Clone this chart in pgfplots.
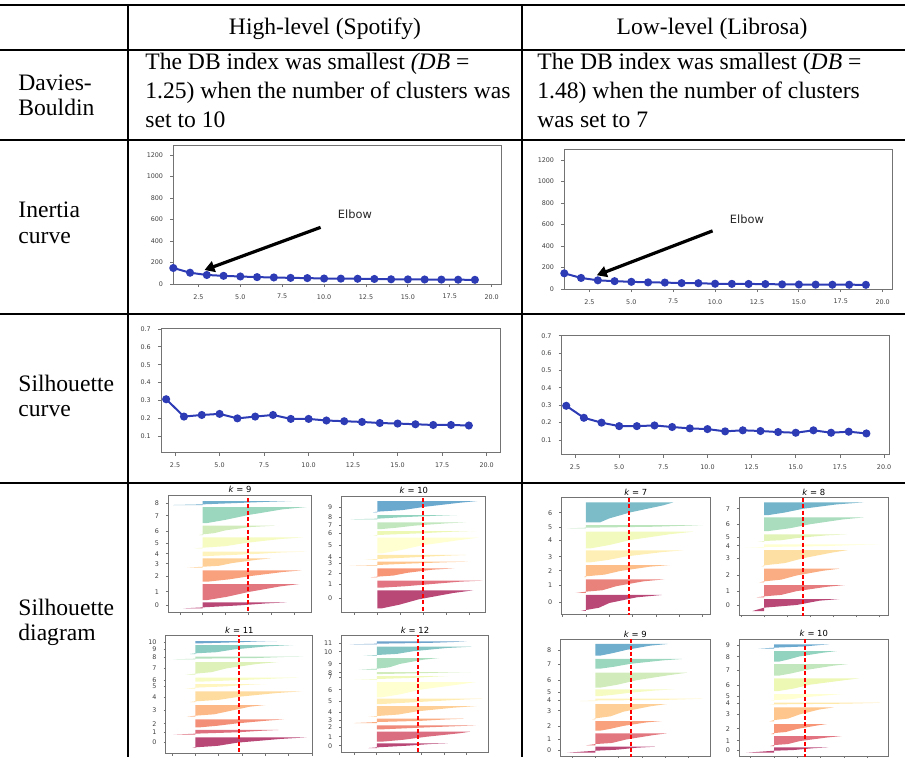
\documentclass[border=0pt]{standalone}
\usepackage{fontspec}
\setmainfont{Liberation Serif}
\newfontfamily\mpl{DejaVu Sans}
\usepackage{pgfplots}
\pgfplotsset{compat=1.18}
\usetikzlibrary{arrows.meta}

\definecolor{mplblue}{RGB}{45,60,180}
\definecolor{avgred}{RGB}{255,0,0}
\newcommand\tb{\fontsize{11.8}{14}\selectfont}

\tikzset{elbow/.style={black, line width=1.6pt, -{Triangle[length=5pt,width=5.5pt]}}}

\pgfplotsset{
  colormap={spectral}{rgb255=(158,1,66) rgb255=(213,62,79) rgb255=(244,109,67)
    rgb255=(253,174,97) rgb255=(254,224,139) rgb255=(255,255,191) rgb255=(230,245,152)
    rgb255=(171,221,164) rgb255=(102,194,165) rgb255=(50,136,189) rgb255=(94,79,162)},
  mplax/.style={scale only axis, anchor=north west, tick pos=left, tick align=outside,
    major tick length=1.6pt, axis line style={black!55, line width=0.5pt},
    tick style={black!55, line width=0.4pt},
    tick label style={font=\mpl\fontsize{3.2}{4}\selectfont, text=black!75},
    /pgf/number format/assume math mode=true, /pgf/number format/1000 sep={},
    scaled ticks=false},
  curve/.style={mplax, xtick={2.5,5,...,20},
    x tick label style={/pgf/number format/fixed, /pgf/number format/fixed zerofill,
      /pgf/number format/precision=1}},
  line/.style={mplblue, line width=1pt, mark=*, mark size=1.5pt},
  sil/.style={mplax, y dir=reverse, xtick={-0.1,0,0.1,0.2,0.3,0.4,0.5}, xticklabels={},
    major tick length=1.2pt,
    every axis title/.style={at={(0.5,1)}, anchor=south, inner sep=0.8pt,
      font=\mpl\fontsize{4.2}{5}\selectfont}},
  kn/.style={color of colormap={#1 of spectral}, draw=none, fill=., fill opacity=0.72},
  avg/.style={draw=avgred, line width=1pt, dash pattern=on 2pt off 1.2pt},
}

\begin{document}
\begin{tikzpicture}
\useasboundingbox (0,0) rectangle (452.5pt,-378.5pt);
\clip (0,0) rectangle (452.5pt,-378.5pt);

% table grid and text, in pixel units of the reference
\begin{scope}[x=0.5pt, y=-0.5pt]
\draw[line width=1pt] (0,5) -- (905,5);
\draw[line width=1pt] (0,49.5) -- (905,49.5);
\draw[line width=1pt] (0,139.5) -- (905,139.5);
\draw[line width=1pt] (0,313.5) -- (905,313.5);
\draw[line width=1pt] (0,482.5) -- (905,482.5);
\draw[line width=1pt] (127.5,5) -- (127.5,757);
\draw[line width=1pt] (521.5,5) -- (521.5,757);

\node[anchor=base, inner sep=0] at (325,34) {\tb High-level (Spotify)};
\node[anchor=base, inner sep=0] at (712,34) {\tb Low-level (Librosa)};

\node[anchor=base west, inner sep=0] at (18,90) {\tb Davies-};
\node[anchor=base west, inner sep=0] at (18,115) {\tb Bouldin};
\node[anchor=base west, inner sep=0] at (18,217) {\tb Inertia};
\node[anchor=base west, inner sep=0] at (18,243) {\tb curve};
\node[anchor=base west, inner sep=0] at (18,391) {\tb Silhouette};
\node[anchor=base west, inner sep=0] at (18,416) {\tb curve};
\node[anchor=base west, inner sep=0] at (18,615) {\tb Silhouette};
\node[anchor=base west, inner sep=0] at (18,640) {\tb diagram};

\node[anchor=base west, inner sep=0] at (145,69) {\tb The DB index was smallest \textit{(DB} =};
\node[anchor=base west, inner sep=0] at (145,98) {\tb 1.25) when the number of clusters was};
\node[anchor=base west, inner sep=0] at (145,127) {\tb set to 10};
\node[anchor=base west, inner sep=0] at (537,69) {\tb The DB index was smallest (\textit{DB} =};
\node[anchor=base west, inner sep=0] at (537,98) {\tb 1.48) when the number of clusters};
\node[anchor=base west, inner sep=0] at (537,127) {\tb was set to 7};
\end{scope}

% inertia, high-level
\begin{axis}[curve, at={(86.65pt,-72.5pt)}, width=164.2pt, height=69.5pt,
  xmin=1, xmax=20.6, ymin=0, ymax=1293, ytick={0,200,...,1200}]
\addplot[line] coordinates {(1,149) (2,105) (3,84) (4,76) (5,70) (6,64) (7,61) (8,57) (9,55)
  (10,51) (11,50) (12,49) (13,47) (14,44) (15,43) (16,42) (17,41) (18,40) (19,39)};
\draw[elbow] (axis cs:9.79,527) -- (axis cs:2.86,130);
\node[font=\mpl\fontsize{5.7}{7}\selectfont, text=black!85] at (axis cs:11.84,651) {Elbow};
\end{axis}

% inertia, low-level
\begin{axis}[curve, at={(282.15pt,-74.65pt)}, width=164.2pt, height=69.85pt,
  xmin=1, xmax=20.6, ymin=0, ymax=1300, ytick={0,200,...,1200}]
\addplot[line] coordinates {(1,146) (2,103) (3,81) (4,73) (5,67) (6,62) (7,60) (8,55) (9,54)
  (10,49) (11,48) (12,47) (13,46) (14,43) (15,42) (16,41) (17,40) (18,40) (19,39)};
\draw[elbow] (axis cs:9.85,541) -- (axis cs:2.94,128);
\node[font=\mpl\fontsize{5.7}{7}\selectfont, text=black!85] at (axis cs:11.9,650) {Elbow};
\end{axis}

% silhouette, high-level
\begin{axis}[curve, at={(80.5pt,-164.15pt)}, width=169.85pt, height=62pt,
  xmin=1.71, xmax=20.79, ymin=0.01, ymax=0.704, ytick={0.1,0.2,0.3,0.4,0.5,0.6,0.7},
  y tick label style={/pgf/number format/fixed, /pgf/number format/precision=1}]
\addplot[line] coordinates {(2,0.307) (3,0.21) (4,0.219) (5,0.225) (6,0.2) (7,0.21) (8,0.219)
  (9,0.197) (10,0.197) (11,0.188) (12,0.184) (13,0.18) (14,0.174) (15,0.171) (16,0.167)
  (17,0.163) (18,0.163) (19,0.16)};
\end{axis}

% silhouette, low-level
\begin{axis}[curve, at={(280.85pt,-167.85pt)}, width=163.65pt, height=59.3pt,
  xmin=1.745, xmax=20.28, ymin=0.018, ymax=0.7, ytick={0.1,0.2,0.3,0.4,0.5,0.6,0.7},
  y tick label style={/pgf/number format/fixed, /pgf/number format/precision=1}]
\addplot[line] coordinates {(2,0.297) (3,0.228) (4,0.2) (5,0.18) (6,0.18) (7,0.184) (8,0.175)
  (9,0.167) (10,0.163) (11,0.15) (12,0.156) (13,0.152) (14,0.146) (15,0.142) (16,0.156)
  (17,0.142) (18,0.148) (19,0.138)};
\end{axis}

% silhouette diagram, high-level, k = 9
\begin{axis}[sil, at={(84.15pt,-247.5pt)}, width=71.7pt, height=58.85pt,
  xmin=-0.151, xmax=0.478, ymin=30, ymax=383, title={\textit{k} = 9},
  ytick={55,92,138,175,206,236,273,320,360}, yticklabels={8,7,6,5,4,3,2,1,0}]
\addplot[kn=0] coordinates {(0,370) (-0.085,370) (0,367) (0.16,361) (0.28,355) (0.368,352) (0,352)};
\addplot[kn=111] coordinates {(0,345) (0.02,345) (0.105,335.4) (0.2,321) (0.34,304) (0.424,297) (0,297)};
\addplot[kn=222] coordinates {(0,290) (0.02,290) (0.115,283) (0.21,273) (0.35,261) (0.434,256) (0,256)};
\addplot[kn=333] coordinates {(0,248) (-0.07,248) (0,245) (0.07,242.4) (0.13,234) (0.24,224) (0.3,220) (0,220)};
\addplot[kn=444] coordinates {(0,213) (0.02,213) (0.24,206.5) (0.35,202) (0.45,200) (0,200)};
\addplot[kn=556] coordinates {(0,190) (-0.034,190) (0,188) (0.1,183.4) (0.19,173.5) (0.34,162) (0.44,157) (0,157)};
\addplot[kn=667] coordinates {(0,150) (-0.015,150) (0,148) (0.05,144.4) (0.1,136) (0.21,126) (0.317,122) (0,122)};
\addplot[kn=778] coordinates {(0,114) (0.02,114) (0.1,104.4) (0.2,90) (0.35,73) (0.456,66) (0,66)};
\addplot[kn=889] coordinates {(0,60) (-0.13,60) (0,58) (0.15,54) (0.3,50) (0.39,48) (0,48)};
\addplot[avg] coordinates {(0.197,0) (0.197,420)};
\end{axis}

% k = 10
\begin{axis}[sil, at={(170.85pt,-248pt)}, width=72.15pt, height=58.15pt,
  xmin=-0.155, xmax=0.472, ymin=33, ymax=382, title={\textit{k} = 10},
  ytick={67,97,121,145,182,216,236,265,298,341}, yticklabels={9,8,7,6,5,4,3,2,1,0}]
\addplot[kn=0] coordinates {(0,370) (0.02,370) (0.095,359.2) (0.18,343) (0.33,324) (0.417,316) (0,316)};
\addplot[kn=100] coordinates {(0,308) (0.02,308) (0.12,303.8) (0.23,297.5) (0.36,290) (0.457,287) (0,287)};
\addplot[kn=200] coordinates {(0,277) (-0.029,277) (0,275) (0.07,271.6) (0.13,263.5) (0.24,254) (0.335,250) (0,250)};
\addplot[kn=300] coordinates {(0,242) (-0.122,242) (0,240) (0.13,236) (0.29,232) (0.393,230) (0,230)};
\addplot[kn=400] coordinates {(0,224) (-0.054,224) (0,222) (0.156,217) (0.3,212) (0.384,210) (0,210)};
\addplot[kn=500] coordinates {(0,205) (0.02,205) (0.1,195.6) (0.19,181.5) (0.36,165) (0.438,158) (0,158)};
\addplot[kn=600] coordinates {(0,152) (-0.017,152) (0,150) (0.185,145) (0.33,140) (0.426,138) (0,138)};
\addplot[kn=700] coordinates {(0,132) (0.02,132) (0.085,128) (0.16,122) (0.3,115) (0.385,112) (0,112)};
\addplot[kn=800] coordinates {(0,103) (-0.116,103) (0,101) (0.11,96.5) (0.26,92) (0.345,90) (0,90)};
\addplot[kn=900] coordinates {(0,82) (-0.02,82) (0,80) (0.11,75.2) (0.21,65) (0.36,53) (0.435,48) (0,48)};
\addplot[avg] coordinates {(0.197,0) (0.197,420)};
\end{axis}

% k = 11
\begin{axis}[sil, at={(83pt,-317.5pt)}, width=73.35pt, height=59.15pt,
  xmin=-0.126, xmax=0.503, ymin=45, ymax=400, title={\textit{k} = 11},
  ytick={66,87,112,145,180,199,231,270,311,337,366}, yticklabels={10,9,8,7,6,5,4,3,2,1,0}]
\addplot[kn=0] coordinates {(0,384) (-0.013,384) (0,382) (0.095,377.6) (0.18,368) (0.363,357) (0.477,352) (0,352)};
\addplot[kn=91] coordinates {(0,344) (-0.094,344) (0,341) (0.177,337) (0.29,332) (0.356,330) (0,330)};
\addplot[kn=182] coordinates {(0,322) (0.02,322) (0.095,317.2) (0.18,310) (0.306,302) (0.38,298) (0,298)};
\addplot[kn=273] coordinates {(0,290) (-0.037,290) (0,287) (0.08,283) (0.15,272.5) (0.234,260) (0.3,255) (0,255)};
\addplot[kn=364] coordinates {(0,246) (-0.023,246) (0,244) (0.1,239.6) (0.19,230) (0.35,219) (0.456,214) (0,214)};
\addplot[kn=455] coordinates {(0,206) (-0.044,206) (0,203) (0.134,199) (0.234,194) (0.303,192) (0,192)};
\addplot[kn=545] coordinates {(0,185) (0.02,185) (0.234,179) (0.363,175) (0.441,173) (0,173)};
\addplot[kn=636] coordinates {(0,164) (-0.043,164) (0,161) (0.07,156.4) (0.134,145) (0.263,132) (0.356,126) (0,126)};
\addplot[kn=727] coordinates {(0,118) (-0.094,118) (0,116) (0.263,114) (0.377,111) (0.463,110) (0,110)};
\addplot[kn=818] coordinates {(0,102) (-0.023,102) (0,100) (0.09,96.6) (0.163,88.5) (0.306,79) (0.42,75) (0,75)};
\addplot[kn=909] coordinates {(0,70) (0.02,70) (0.191,66.5) (0.277,64) (0.349,63) (0,63)};
\addplot[avg] coordinates {(0.188,0) (0.188,420)};
\end{axis}

% k = 12
\begin{axis}[sil, at={(170.85pt,-317.5pt)}, width=73.3pt, height=58.85pt,
  xmin=-0.156, xmax=0.496, ymin=45, ymax=398, title={\textit{k} = 12},
  ytick={70,95,131,158,172,209,244,276,301,321,350,377}, yticklabels={11,10,9,8,7,6,5,4,3,2,1,0}]
\addplot[kn=0] coordinates {(0,384) (-0.037,384) (0,382) (0.133,377) (0.237,372) (0.316,370) (0,370)};
\addplot[kn=83] coordinates {(0,365) (0.02,365) (0.12,359) (0.222,350) (0.37,339.5) (0.415,335) (0,335)};
\addplot[kn=167] coordinates {(0,328) (0.02,328) (0.222,322) (0.37,318) (0.441,316) (0,316)};
\addplot[kn=250] coordinates {(0,309) (-0.1,309) (0,306) (0.193,302.5) (0.311,298) (0.388,296) (0,296)};
\addplot[kn=333] coordinates {(0,290) (-0.037,290) (0,288) (0.095,283.6) (0.178,274) (0.34,263) (0.444,258) (0,258)};
\addplot[kn=417] coordinates {(0,252) (0.02,252) (0.237,244) (0.385,238.5) (0.47,236) (0,236)};
\addplot[kn=500] coordinates {(0,232) (0.02,232) (0.105,222.8) (0.193,209) (0.37,193) (0.441,186) (0,186)};
\addplot[kn=583] coordinates {(0,179) (-0.098,179) (0,177) (0.163,173.5) (0.252,170) (0.319,168) (0,168)};
\addplot[kn=667] coordinates {(0,162) (0.02,162) (0.222,159) (0.341,157) (0.418,156) (0,156)};
\addplot[kn=750] coordinates {(0,149) (-0.081,149) (0,146) (0.055,142) (0.104,131.5) (0.207,119) (0.277,114) (0,114)};
\addplot[kn=833] coordinates {(0,107) (-0.059,107) (0,105) (0.09,101.6) (0.163,93.5) (0.31,84) (0.422,80) (0,80)};
\addplot[kn=917] coordinates {(0,73) (-0.121,73) (0,71) (0.237,68.5) (0.341,66) (0.4,64) (0,64)};
\addplot[avg] coordinates {(0.182,0) (0.182,420)};
\end{axis}

% silhouette diagram, low-level, k = 7
\begin{axis}[sil, at={(280.85pt,-248.85pt)}, width=74.15pt, height=58.3pt,
  xmin=-0.104, xmax=0.531, ymin=38, ymax=388, title={\textit{k} = 7},
  ytick={83,126,165,215,257,302,352}, yticklabels={6,5,4,3,2,1,0}]
\addplot[kn=0] coordinates {(0,378) (-0.023,378) (0,375) (0.055,368.4) (0.1,354) (0.217,337) (0.324,330) (0,330)};
\addplot[kn=143] coordinates {(0,324) (-0.044,324) (0,320) (0.07,315.8) (0.13,303.5) (0.246,289) (0.336,283) (0,283)};
\addplot[kn=286] coordinates {(0,276) (-0.009,276) (0,274) (0.08,268.8) (0.146,258) (0.274,245) (0.36,240) (0,240)};
\addplot[kn=429] coordinates {(0,232) (0.02,232) (0.095,224.8) (0.174,214) (0.33,201) (0.417,196) (0,196)};
\addplot[kn=571] coordinates {(0,190) (0.02,190) (0.1,180) (0.19,165) (0.36,147.5) (0.46,140) (0,140)};
\addplot[kn=714] coordinates {(0,130) (-0.08,130) (0,128) (0.3,125) (0.45,121.5) (0.5,120) (0,120)};
\addplot[kn=857] coordinates {(0,112) (0.06,112) (0.1,100) (0.19,82) (0.33,61) (0.374,52) (0,52)};
\addplot[avg] coordinates {(0.184,0) (0.184,420)};
\end{axis}

% k = 8
\begin{axis}[sil, at={(369.65pt,-248.85pt)}, width=74.5pt, height=58.65pt,
  xmin=-0.107, xmax=0.538, ymin=38, ymax=390, title={\textit{k} = 8},
  ytick={71,118,158,182,220,271,318,360}, yticklabels={7,6,5,4,3,2,1,0}]
\addplot[kn=0] coordinates {(0,378) (-0.05,378) (0,368) (0.07,364) (0.14,360) (0.24,347) (0.326,342) (0,342)};
\addplot[kn=125] coordinates {(0,337) (-0.032,337) (0,334) (0.075,329.6) (0.14,318.5) (0.27,305.5) (0.35,300) (0,300)};
\addplot[kn=250] coordinates {(0,292) (-0.02,292) (0,289) (0.075,283.8) (0.14,271.5) (0.257,257) (0.326,251) (0,251)};
\addplot[kn=375] coordinates {(0,244) (-0.01,244) (0,241) (0.09,234.2) (0.17,219.5) (0.3,202) (0.365,195) (0,195)};
\addplot[kn=500] coordinates {(0,188) (-0.082,188) (0,186) (0.271,183) (0.416,179.5) (0.5,178) (0,178)};
\addplot[kn=625] coordinates {(0,170) (-0.027,170) (0,168) (0.075,165.6) (0.141,159) (0.271,151) (0.36,148) (0,148)};
\addplot[kn=750] coordinates {(0,138) (0.02,138) (0.11,129.8) (0.2,117.5) (0.343,103) (0.433,97) (0,97)};
\addplot[kn=875] coordinates {(0,90) (0.02,90) (0.09,82.4) (0.17,71) (0.315,58) (0.43,52) (0,52)};
\addplot[avg] coordinates {(0.17,0) (0.17,420)};
\end{axis}

% k = 9
\begin{axis}[sil, at={(280.35pt,-319.65pt)}, width=74.65pt, height=58.7pt,
  xmin=-0.149, xmax=0.491, ymin=58, ymax=410, title={\textit{k} = 9},
  ytick={90,132,180,218,240,272,318,357,390}, yticklabels={8,7,6,5,4,3,2,1,0}]
\addplot[kn=0] coordinates {(0,398) (-0.123,398) (0,392) (0.091,389) (0.177,383) (0.256,380) (0,380)};
\addplot[kn=111] coordinates {(0,376) (-0.041,376) (0,372) (0.07,368.8) (0.134,358) (0.25,345) (0.306,340) (0,340)};
\addplot[kn=222] coordinates {(0,332) (0.02,332) (0.065,326.2) (0.12,317.5) (0.22,307) (0.284,303) (0,303)};
\addplot[kn=333] coordinates {(0,298) (-0.014,298) (0,295) (0.065,288.8) (0.12,275) (0.234,259) (0.306,252) (0,252)};
\addplot[kn=444] coordinates {(0,243) (-0.066,243) (0,241.5) (0.3,239.5) (0.42,237) (0.46,236) (0,236)};
\addplot[kn=556] coordinates {(0,228) (0.02,228) (0.08,224) (0.149,218) (0.263,211) (0.337,208) (0,208)};
\addplot[kn=667] coordinates {(0,203) (0.02,203) (0.095,194) (0.177,180.5) (0.32,165) (0.394,158) (0,158)};
\addplot[kn=778] coordinates {(0,146) (0.02,146) (0.08,140.2) (0.149,131.5) (0.291,121) (0.37,117) (0,117)};
\addplot[kn=889] coordinates {(0,107) (0.02,107) (0.07,100) (0.134,89.5) (0.234,77) (0.309,72) (0,72)};
\addplot[avg] coordinates {(0.151,0) (0.151,420)};
\end{axis}

% k = 10
\begin{axis}[sil, at={(369.65pt,-319.5pt)}, width=74.5pt, height=58.85pt,
  xmin=-0.149, xmax=0.49, ymin=57, ymax=410, title={\textit{k} = 10},
  ytick={76,110,150,196,228,250,282,326,362,390}, yticklabels={9,8,7,6,5,4,3,2,1,0}]
\addplot[kn=0] coordinates {(0,398) (-0.12,398) (0,392) (0.083,390) (0.169,384.5) (0.233,382) (0,382)};
\addplot[kn=100] coordinates {(0,378) (-0.017,378) (0,375) (0.06,372) (0.111,363) (0.226,352.5) (0.29,348) (0,348)};
\addplot[kn=200] coordinates {(0,342) (-0.014,342) (0,339) (0.05,336) (0.097,327) (0.183,316.5) (0.226,312) (0,312)};
\addplot[kn=300] coordinates {(0,304) (-0.02,304) (0,300) (0.06,295.6) (0.11,283) (0.197,268) (0.257,262) (0,262)};
\addplot[kn=400] coordinates {(0,254) (-0.017,254) (0,253) (0.3,251) (0.42,249) (0.457,248) (0,248)};
\addplot[kn=500] coordinates {(0,242) (-0.017,242) (0,240) (0.07,238) (0.126,232) (0.24,225) (0.294,222) (0,222)};
\addplot[kn=600] coordinates {(0,213) (0.02,213) (0.085,205.4) (0.154,194) (0.297,181) (0.366,175) (0,175)};
\addplot[kn=700] coordinates {(0,167) (0.02,167) (0.075,160) (0.14,149.5) (0.254,137) (0.319,132) (0,132)};
\addplot[kn=800] coordinates {(0,125) (0.02,125) (0.06,118.6) (0.11,109) (0.21,98) (0.269,93) (0,93)};
\addplot[kn=900] coordinates {(0,86) (-0.067,86) (0,83) (0.126,79.5) (0.197,75) (0.237,73) (0,73)};
\addplot[avg] coordinates {(0.134,0) (0.134,420)};
\end{axis}
\end{tikzpicture}
\end{document}
